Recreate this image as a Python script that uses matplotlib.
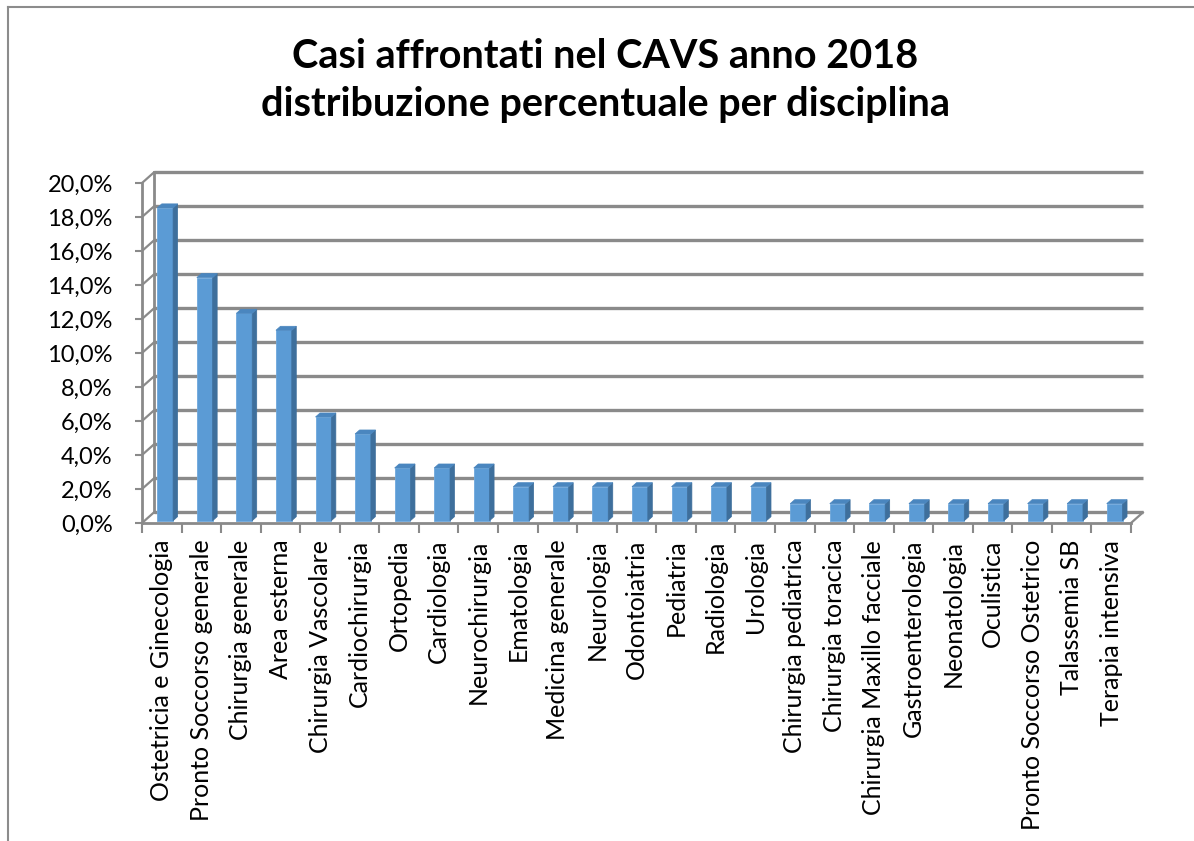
# Casi CAVS 2018 - distribuzione percentuale per disciplina
# colonne "3D" in stile Excel, fatte a mano con proiezione obliqua

import matplotlib
matplotlib.use('Agg')
import matplotlib.pyplot as plt
from matplotlib.patches import Polygon
from matplotlib.lines import Line2D
import numpy as np

# dati
discipline = ['Ostetricia e Ginecologia', 'Pronto Soccorso generale', 'Chirurgia generale',
              'Area esterna', 'Chirurgia Vascolare', 'Cardiochirurgia', 'Ortopedia',
              'Cardiologia', 'Neurochirurgia', 'Ematologia', 'Medicina generale',
              'Neurologia', 'Odontoiatria', 'Pediatria', 'Radiologia', 'Urologia',
              'Chirurgia pediatrica', 'Chirurgia toracica', 'Chirurgia Maxillo facciale',
              'Gastroenterologia', 'Neonatologia', 'Oculistica', 'Pronto Soccorso Ostetrico',
              'Talassemia SB', 'Terapia intensiva']
percentuali = [18.4, 14.3, 12.2, 11.2, 6.1, 5.1, 3.1, 3.1, 3.1,
               2.0, 2.0, 2.0, 2.0, 2.0, 2.0, 2.0,
               1.0, 1.0, 1.0, 1.0, 1.0, 1.0, 1.0, 1.0, 1.0]
y_ticks = list(range(0, 21, 2))

font = ['Lato', 'DejaVu Sans']
plt.rcParams['font.family'] = font

W, H = 1194, 841
fig = plt.figure(figsize=(W / 100, H / 100), dpi=100)

# mappa pixel: x=-0.5 -> 142px, y=0 -> 523px (dall'alto)
px_cat = 39.56
px_pct = 17.0
xlim = (-0.7, 25.2)
ylim = (-0.3, 21.2)
left_px = 142 + (xlim[0] + 0.5) * px_cat
bottom_px = 523 - ylim[0] * px_pct
ax = fig.add_axes([left_px / W, (H - bottom_px) / H,
                   (xlim[1] - xlim[0]) * px_cat / W, (ylim[1] - ylim[0]) * px_pct / H])
ax.set_xlim(xlim)
ax.set_ylim(ylim)
ax.patch.set_visible(False)

n = len(discipline)
x = np.arange(n)
DX, DY = 0.30, 0.62      # profondita' della parete di fondo
grid_col = '#8a8a8a'

# parete di fondo + linee griglia
for v in y_ticks:
    ax.plot([-0.5 + DX, n - 0.5 + DX], [v + DY, v + DY], color=grid_col, lw=2.4,
            zorder=1, solid_capstyle='butt')
    ax.plot([-0.5, -0.5 + DX], [v, v + DY], color=grid_col, lw=1.6, zorder=1)
ax.plot([-0.5 + DX, -0.5 + DX], [DY, 20 + DY], color=grid_col, lw=2.0, zorder=1)
# pavimento
ax.plot([n - 0.5, n - 0.5 + DX], [0, DY], color=grid_col, lw=1.6, zorder=1)

# colonne
f0, f1 = 0.22, 0.60
w = 0.40
sx, by = f0 * DX + 0.02, f0 * DY
bdx, bdy = (f1 - f0) * DX, (f1 - f0) * DY
front = '#5b9bd5'
side = '#3e6f9c'
top = '#4a86bf'
ax.bar(x + sx, percentuali, width=w, bottom=by, color=front, edgecolor='#6fa8dc',
       linewidth=0.6, zorder=3)
for xi, v in zip(x, percentuali):
    xr = xi + sx + w / 2
    xl = xi + sx - w / 2
    ax.add_patch(Polygon([(xr, by), (xr + bdx, by + bdy), (xr + bdx, by + v + bdy),
                          (xr, by + v)], closed=True, facecolor=side, edgecolor=side,
                         lw=0.5, zorder=3))
    ax.add_patch(Polygon([(xl, by + v), (xr, by + v), (xr + bdx, by + v + bdy),
                          (xl + bdx, by + v + bdy)], closed=True, facecolor=top,
                         edgecolor=top, lw=0.5, zorder=3))

# assi
for s in ['top', 'right']:
    ax.spines[s].set_visible(False)
ax.spines['left'].set_position(('data', -0.5))
ax.spines['left'].set_bounds(0, 20)
ax.spines['bottom'].set_position(('data', 0))
ax.spines['bottom'].set_bounds(-0.5, n - 0.5)
for s in ['left', 'bottom']:
    ax.spines[s].set_color(grid_col)
    ax.spines[s].set_linewidth(2.0)
    ax.spines[s].set_zorder(2)

ax.set_yticks(y_ticks)
ax.set_yticklabels([f'{v:.1f}%'.replace('.', ',') for v in y_ticks], fontsize=17)
ax.tick_params(axis='y', length=5, width=1.5, color=grid_col, pad=16)

ax.set_xticks(np.arange(-0.5, n, 1.0))
ax.set_xticklabels([])
ax.set_xticks(x, minor=True)
ax.set_xticklabels(discipline, minor=True, rotation=90, fontsize=18, va='top', ha='center')
ax.tick_params(axis='x', which='major', length=7, width=1.5, color=grid_col)
ax.tick_params(axis='x', which='minor', length=0, pad=12)

fig.suptitle('Casi affrontati nel CAVS anno 2018\ndistribuzione percentuale per disciplina',
             x=0.507, y=0.955, fontsize=28.5, fontweight='bold', linespacing=1.38)

# bordo del grafico
fig.add_artist(Line2D([8 / W, 8 / W], [0, 1 - 7 / H], color='#8c8c8c', lw=1.5))
fig.add_artist(Line2D([8 / W, 1], [1 - 7 / H, 1 - 7 / H], color='#8c8c8c', lw=1.5))

fig.savefig('out.png', dpi=100)
